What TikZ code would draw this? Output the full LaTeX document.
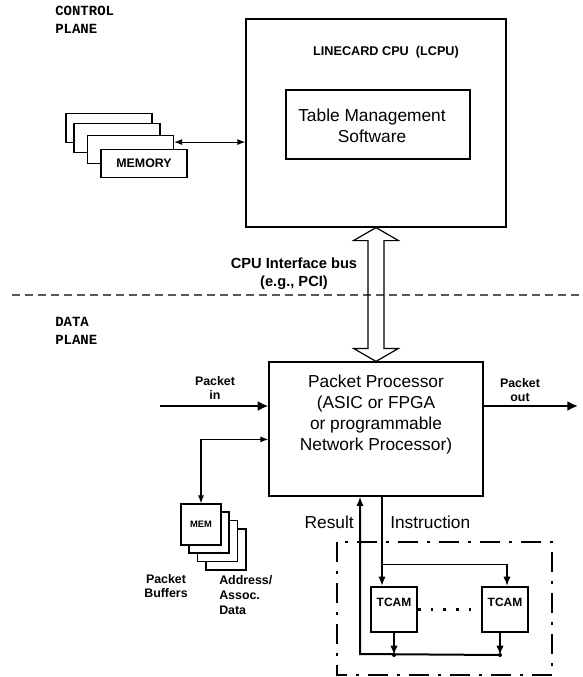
\documentclass[tikz,border=0pt]{standalone}
\usepackage{fontspec}
\setmainfont{Liberation Sans}
\newfontfamily\planefont{Liberation Mono}
\usetikzlibrary{arrows.meta, calc}

\begin{document}
\begin{tikzpicture}[x=0.75pt, y=-0.75pt, >={Latex[length=6pt,width=4.5pt]},
  blk/.style 2 args = {draw, line width=0.9pt, fill=white, inner sep=0pt, minimum width=#1, minimum height=#2},
  tcam/.style = {draw, line width=1.5pt, fill=white, inner sep=3pt, minimum width=34.5pt,
                 text height=11.25pt, text depth=16.5pt, font=\bfseries\fontsize{9}{10}\selectfont},
  plane/.style = {anchor=west, align=left, inner sep=0pt, font=\planefont\bfseries\fontsize{10.5}{13.5}\selectfont},
  big/.style = {align=center, inner sep=0pt, font=\fontsize{13}{15.75}\selectfont},
  tag/.style = {align=center, inner sep=0pt, font=\bfseries\fontsize{9.3}{10.5}\selectfont},
  fat/.style = {line width=1.9pt, -{Latex[length=8pt,width=7.5pt]}},
  ins/.style = {line width=1.5pt, -{Latex[length=7pt,width=5.5pt]}},
  dot/.style = {circle, fill, inner sep=0pt, minimum size=3pt}]
\useasboundingbox (0,0) rectangle (582,677);

% plane labels and the divider
\node[plane] (cp) at (55,20) {CONTROL\\PLANE};
\node[plane] (dp) at (55,331) {DATA\\PLANE};
\coordinate (d1) at (12,295);
\coordinate (d2) at (582,295);
\draw[gray!70!black, line width=0.9pt, dash pattern=on 6pt off 3.75pt] (d1) -- (d2);

% control plane
\node[blk={195pt}{156pt}] (lcpu) at (376,123) {};
\node[font=\bfseries\fontsize{9.5}{11}\selectfont] (lname) at (386,52) {LINECARD CPU\ \ (LCPU)};
\node[blk={138pt}{51.75pt}] (tms) at (378,124.5) {};
\node[big] (tmstext) at (372,125.5) {Table Management\\Software};

\node[blk={64.5pt}{21.4pt}] (r1) at (109,128) {};
\node[blk={64.5pt}{21.4pt}] (r2) at ($(r1)+(8,10)$) {};
\node[blk={64.5pt}{21.4pt}] (r3) at ($(r2)+(13.5,11.5)$) {};
\node[blk={64.5pt}{21.4pt}, font=\bfseries\fontsize{9.3}{11}\selectfont] (r4) at ($(r3)+(13.5,14)$) {MEMORY};
\coordinate (mb) at ($(r3.north east)!0.25!(r3.south east)$);
\draw[<->, line width=0.8pt] (mb) -- (mb -| lcpu.west);

% interface bus
\node[align=center, inner sep=0pt, font=\bfseries\fontsize{11}{13.5}\selectfont] (bus) at (294,274) {CPU Interface bus\\(e.g., PCI)};

% data plane
\node[blk={160.5pt}{100.5pt}] (pp) at (376,429) {};
\node[big] (pptext) at (376,414.5) {Packet Processor\\(ASIC or FPGA\\or programmable\\Network Processor)};

\draw[line width=0.9pt] (lcpu.south) -- ++(22.5,13) -- ++(-14.5,0) -- ($(pp.north)+(8,-13)$)
  -- ++(14.5,0) -- (pp.north) -- ++(-22.5,-13) -- ++(14.5,0) -- ($(lcpu.south)+(-8,13)$)
  -- ++(-14.5,0) -- cycle;

\coordinate (pin) at (160,406);
\coordinate (pout) at (578,406);
\draw[fat] (pin) -- (pin -| pp.west);
\draw[fat] (pout -| pp.east) -- (pout);
\node[tag] (inlabel) at (215,388) {Packet\\in};
\node[tag] (outlabel) at (520,390.5) {Packet\\out};

% packet buffers
\node[blk={30pt}{30.75pt}] (m4) at (226,549.5) {};
\node[blk={30pt}{30.75pt}] (m3) at ($(m4)+(-8.5,-8.5)$) {};
\node[blk={30pt}{30.75pt}] (m2) at ($(m3)+(-8.5,-8.5)$) {};
\node[blk={30pt}{30.75pt}, font=\bfseries\fontsize{7}{8}\selectfont] (m1) at ($(m2)+(-8,-8)$) {MEM};
\coordinate (mf) at ($(pp.north west)+(0,78)$);
\draw[<->, line width=0.8pt] (mf) -| (m1.north);
\node[tag] (pbuf) at (166,586) {Packet\\Buffers};
\node[tag, anchor=west, align=left, font=\bfseries\fontsize{9.3}{11.25}\selectfont] (adata) at (219,595) {Address/\\Assoc.\\Data};

% TCAM block
\draw[line width=1.5pt, dash pattern=on 15pt off 6.75pt on 2.25pt off 6.75pt] (337,542) rectangle (552,675);
\node[tcam] (t1) at (394,609.5) {TCAM};
\node[tcam] (t2) at (505,609.5) {TCAM};
\draw[line width=1.6pt, dash pattern=on 2pt off 7.5pt] (t1.east) -- (t2.west);

\coordinate (ic) at ($(pp.south)+(6,0)$);
\coordinate (br) at ($(ic)+(0,68)$);
\coordinate (b2) at ($(t2.north)+(2,0)$);
\draw[ins] (ic) -- (ic |- t1.north);
\draw[ins, line width=1.2pt] (br) -| (b2);

\coordinate (j1) at ($(t1.south)+(0,22)$);
\coordinate (j2) at ($(t2.south)+(-5,22)$);
\coordinate (rc) at (360,654);
\draw[ins, line width=1.2pt] (t1.south) -- (j1);
\draw[ins, line width=1.2pt] ($(t2.south)+(-5,0)$) -- (j2);
\draw[line width=1.5pt, -{Latex[length=7pt,width=5.5pt]}] (j2) -- (rc) -- (rc |- pp.south);
\node[dot] at (j1) {};
\node[dot] at (j2) {};

\node[big, anchor=east] (res) at (354,522) {Result};
\node[big, anchor=west] (inst) at (390,522) {Instruction};
\end{tikzpicture}
\end{document}
